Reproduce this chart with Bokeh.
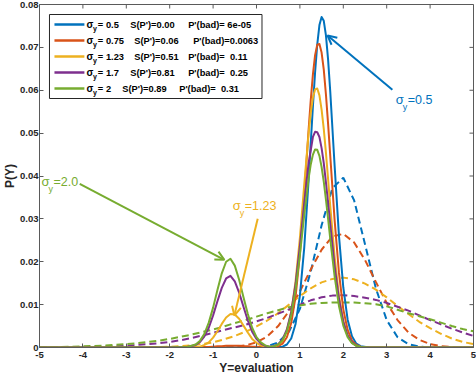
from bokeh.plotting import figure
from bokeh.models import Range1d, FixedTicker, Label, Arrow, OpenHead, BoxAnnotation
from bokeh.embed import file_html
from bokeh.resources import INLINE

# ---------------- data ----------------
sigma_labels = ["0.5", "0.75", "1.23", "1.7", "2"]
s_values = ["0.00", "0.06", "0.51", "0.81", "0.89"]
pbad_values = ["6e-05", "0.0063", "0.11", "0.25", "0.31"]

x_ticks = [-5, -4, -3, -2, -1, 0, 1, 2, 3, 4, 5]
x_tick_labels = ["-5", "-4", "-3", "-2", "-1", "0", "1", "2", "3", "4", "5"]
y_ticks = [0.0, 0.01, 0.02, 0.03, 0.04, 0.05, 0.06, 0.07, 0.08]
y_tick_labels = ["0", "0.01", "0.02", "0.03", "0.04", "0.05", "0.06", "0.07", "0.08"]

x_solid = [-5.0, -2.0, -1.6, -1.4, -1.3, -1.2, -1.1, -1.0, -0.9, -0.8, -0.7, -0.6, -0.5, -0.4,
           -0.3, -0.2, -0.1, 0.0, 0.1, 0.2, 0.3, 0.4, 0.5, 0.6, 0.7, 0.8, 0.9, 1.0, 1.1, 1.2,
           1.25, 1.3, 1.35, 1.4, 1.45, 1.5, 1.55, 1.6, 1.65, 1.7,
           1.8, 1.9, 2.0, 2.1, 2.2, 2.3, 2.4, 2.6, 3.0, 5.0]

solid_blue = [0, 0, 0, 0, 0, 0, 0, 0, 0, 0, 0, 0, 0, 0,
              0, 0, 0, 0, 0, 0, 0, 0, 0.0001, 0.0002, 0.0007, 0.0021, 0.0055, 0.0121, 0.0233, 0.0389,
              0.0477, 0.0563, 0.0642, 0.0707, 0.0752, 0.0771, 0.0762, 0.0728, 0.0671, 0.0596,
              0.0424, 0.0261, 0.0140, 0.0065, 0.0026, 0.0009, 0.0003, 0, 0, 0]
solid_orange = [0, 0, 0, 0, 0, 0.0001, 0.0001, 0.0002, 0.0003, 0.0003, 0.0004, 0.0004, 0.0004, 0.0004,
                0.0003, 0.0003, 0.0002, 0.0002, 0.0001, 0.0001, 0.0001, 0.0002, 0.0003, 0.0009, 0.0024, 0.0057, 0.0118, 0.0218, 0.0355, 0.0507,
                0.0577, 0.0637, 0.0682, 0.0706, 0.0708, 0.0688, 0.0648, 0.0590, 0.0521, 0.0446,
                0.0297, 0.0174, 0.0089, 0.0041, 0.0016, 0.0006, 0.0002, 0, 0, 0]
solid_yellow = [0, 0, 0, 0.0001, 0.0002, 0.0006, 0.0012, 0.0023, 0.0038, 0.0055, 0.0070, 0.0078, 0.0077, 0.0067,
                0.0051, 0.0035, 0.0020, 0.0011, 0.0005, 0.0002, 0.0001, 0.0002, 0.0006, 0.0016, 0.0039, 0.0082, 0.0154, 0.0256, 0.0380, 0.0499,
                0.0547, 0.0583, 0.0602, 0.0604, 0.0588, 0.0555, 0.0510, 0.0454, 0.0392, 0.0329,
                0.0212, 0.0121, 0.0062, 0.0028, 0.0011, 0.0004, 0.0001, 0, 0, 0]
solid_purple = [0, 0, 0.0001, 0.0006, 0.0013, 0.0026, 0.0046, 0.0075, 0.0108, 0.0139, 0.0161, 0.0167, 0.0154, 0.0128,
                0.0095, 0.0063, 0.0037, 0.0020, 0.0009, 0.0004, 0.0002, 0.0003, 0.0008, 0.0019, 0.0042, 0.0083, 0.0148, 0.0236, 0.0337, 0.0430,
                0.0460, 0.0491, 0.0503, 0.0502, 0.0491, 0.0465, 0.0430, 0.0385, 0.0337, 0.0287,
                0.0190, 0.0113, 0.0060, 0.0028, 0.0012, 0.0004, 0.0001, 0, 0, 0]
solid_green = [0, 0, 0.0001, 0.0007, 0.0016, 0.0032, 0.0058, 0.0093, 0.0134, 0.0173, 0.0200, 0.0207, 0.0191, 0.0158,
               0.0117, 0.0078, 0.0046, 0.0024, 0.0012, 0.0005, 0.0002, 0.0003, 0.0007, 0.0017, 0.0038, 0.0076, 0.0136, 0.0216, 0.0309, 0.0394,
               0.0427, 0.0450, 0.0462, 0.0461, 0.0447, 0.0421, 0.0387, 0.0345, 0.0300, 0.0253,
               0.0166, 0.0097, 0.0051, 0.0024, 0.0010, 0.0004, 0.0001, 0, 0, 0]

x_dash = [-5.0, -4.75, -4.5, -4.25, -4.0, -3.75, -3.5, -3.25, -3.0, -2.75, -2.5, -2.25, -2.0, -1.75,
          -1.5, -1.25, -1.0, -0.75, -0.5, -0.25, 0.0, 0.25, 0.5, 0.75, 1.0, 1.25, 1.5, 1.75,
          2.0, 2.25, 2.5, 2.75, 3.0, 3.25, 3.5, 3.75, 4.0, 4.25, 4.5, 4.75, 5.0]

dash_blue = [0, 0, 0, 0, 0, 0, 0, 0, 0, 0, 0, 0, 0, 0,
             0, 0, 0, 0, 0, 0, 0.0001, 0.0003, 0.0012, 0.0037, 0.0090, 0.0177, 0.0285, 0.0372,
             0.0396, 0.0343, 0.0241, 0.0138, 0.0064, 0.0024, 0.0008, 0.0002, 0, 0, 0, 0, 0]
dash_orange = [0, 0, 0, 0, 0, 0, 0, 0, 0, 0, 0, 0, 0, 0,
               0, 0, 0, 0.0001, 0.0002, 0.0005, 0.0012, 0.0026, 0.0050, 0.0085, 0.0131, 0.0182, 0.0228, 0.0259,
               0.0265, 0.0245, 0.0204, 0.0153, 0.0104, 0.0064, 0.0035, 0.0018, 0.0008, 0.0003, 0.0001, 0, 0]
dash_yellow = [0, 0, 0, 0, 0, 0, 0, 0, 0, 0.00003, 0.00005, 0.0001, 0.00016, 0.0003,
               0.0005, 0.0008, 0.0012, 0.0019, 0.0027, 0.0037, 0.0049, 0.0063, 0.0080, 0.0100, 0.0120, 0.0138, 0.0152, 0.0160,
               0.0163, 0.0159, 0.0149, 0.0135, 0.0117, 0.0097, 0.0078, 0.0060, 0.0045, 0.0032, 0.0021, 0.0013, 0.0008]
dash_purple = [0.00002, 0.00003, 0.00005, 0.00007, 0.0001, 0.00015, 0.0002, 0.0003, 0.0004, 0.0006, 0.0008, 0.0010, 0.0013, 0.0017,
               0.0022, 0.0028, 0.0034, 0.0041, 0.0047, 0.0053, 0.0061, 0.0069, 0.0079, 0.0089, 0.0100, 0.0110, 0.0117, 0.0121,
               0.0122, 0.0120, 0.0116, 0.0111, 0.0104, 0.0095, 0.0086, 0.0075, 0.0064, 0.0054, 0.0044, 0.0035, 0.0027]
dash_green = [0.00007, 0.0001, 0.00014, 0.0002, 0.00026, 0.00035, 0.00045, 0.0006, 0.0008, 0.0010, 0.0013, 0.0016, 0.0020, 0.0025,
              0.0030, 0.0036, 0.0042, 0.0049, 0.0057, 0.0064, 0.0072, 0.0080, 0.0087, 0.0094, 0.0098, 0.0102, 0.0104, 0.0105,
              0.0105, 0.0105, 0.0103, 0.0101, 0.0096, 0.0088, 0.0080, 0.0073, 0.0066, 0.0058, 0.0050, 0.0043, 0.0038]

# ---------------- style ----------------
colors = ["#0072BD", "#D95319", "#EDB120", "#7E2F8E", "#77AC30"]
FONT = "Liberation Sans"
AX = "#5a5a5a"
TXT = "#262626"

FL, FR, FT, FB = 38, 473, 4, 347   # frame edges in pixels
TICK_PX = 4


def X(px):
    return -5 + (px - FL) * 10.0 / (FR - FL)


def Y(py):
    return 0.08 * (FB - py) / (FB - FT)


p = figure(width=476, height=377, output_backend="svg", toolbar_location=None,
           x_range=Range1d(-5, 5), y_range=Range1d(0, 0.08),
           min_border_left=FL, min_border_right=476 - FR, min_border_top=FT,
           min_border_bottom=377 - FB)
p.xgrid.visible = False
p.ygrid.visible = False
p.outline_line_color = AX
p.outline_line_width = 1
p.background_fill_color = "white"
p.border_fill_color = "white"

for ax, ticks, labels in ((p.xaxis[0], x_ticks, x_tick_labels), (p.yaxis[0], y_ticks, y_tick_labels)):
    ax.ticker = FixedTicker(ticks=ticks)
    ax.major_label_overrides = {t: l for t, l in zip(ticks, labels)}
    ax.axis_line_color = AX
    ax.major_tick_line_color = AX
    ax.major_tick_in = TICK_PX
    ax.major_tick_out = 0
    ax.minor_tick_line_color = None
    ax.major_label_text_font = FONT
    ax.major_label_text_font_style = "bold"
    ax.major_label_text_font_size = "9.5px"
    ax.major_label_text_color = TXT
    ax.major_label_text_line_height = 1.0
    ax.axis_label_text_font = FONT
    ax.axis_label_text_font_style = "bold"
    ax.axis_label_text_font_size = "12px"
    ax.axis_label_text_color = TXT
    ax.axis_label_text_line_height = 1.0

p.xaxis[0].axis_label = "Y=evaluation"
p.yaxis[0].axis_label = "P(Y)"
p.xaxis[0].major_label_standoff = 4
p.xaxis[0].axis_label_standoff = 0
p.yaxis[0].major_label_standoff = 1
p.yaxis[0].axis_label_standoff = 0

# inward ticks on the top and right edges of the box
tick_dy = TICK_PX * 0.08 / (FB - FT)
tick_dx = TICK_PX * 10.0 / (FR - FL)
p.segment(x0=x_ticks, y0=[0.08] * len(x_ticks), x1=x_ticks, y1=[0.08 - tick_dy] * len(x_ticks),
          line_color=AX, line_width=1)
p.segment(x0=[5] * len(y_ticks), y0=y_ticks, x1=[5 - tick_dx] * len(y_ticks), y1=y_ticks,
          line_color=AX, line_width=1)

solids = [solid_blue, solid_orange, solid_yellow, solid_purple, solid_green]
dashes = [dash_blue, dash_orange, dash_yellow, dash_purple, dash_green]
for ys, c in zip(dashes, colors):
    p.line(x_dash, ys, line_color=c, line_width=2, line_dash="7 4")
for ys, c in zip(solids, colors):
    p.line(x_solid, ys, line_color=c, line_width=2, line_join="round")

# ---------------- legend (manual) ----------------
p.add_layout(BoxAnnotation(left=X(48), right=X(261), top=Y(14), bottom=Y(98),
                           fill_color="white", fill_alpha=1, line_color="#262626",
                           line_width=1, line_alpha=1))
row_py = [24, 40, 56, 72, 88]
s_px = [129, 133, 133, 129, 121]
p_px = [187, 192, 187, 187, 178]
pbad_sep = [" ", "", "\u00a0\u00a0", "\u00a0\u00a0", "\u00a0\u00a0"]
LFS = "9.3px"
for i in range(5):
    yy = row_py[i]
    p.add_layout(Arrow(x_start=X(53), y_start=Y(yy), x_end=X(83), y_end=Y(yy), end=None,
                       line_color=colors[i], line_width=2.5))
    common = dict(text_font=FONT, text_font_style="bold", text_color="black",
                  text_baseline="middle", text_align="left")
    p.add_layout(Label(x=X(85), y=Y(yy), text="σ", text_font_size="10px", **common))
    p.add_layout(Label(x=X(91.5), y=Y(yy + 4), text="y", text_font_size="7px", **common))
    p.add_layout(Label(x=X(96.5), y=Y(yy), text="= " + sigma_labels[i], text_font_size=LFS, **common))
    p.add_layout(Label(x=X(s_px[i]), y=Y(yy), text="S(P')=" + s_values[i], text_font_size=LFS, **common))
    p.add_layout(Label(x=X(p_px[i]), y=Y(yy), text="P'(bad)=" + pbad_sep[i] + pbad_values[i],
                       text_font_size=LFS, **common))

# ---------------- arrows + annotations ----------------
ann = [
    # color index, text pos (px), arrow tail (px), arrow head (px), value
    (0, (395, 99), (391.7, 89.3), (326.7, 35.0), "0.5"),
    (4, (40, 181), (78.3, 183.3), (223.3, 259.3), "2.0"),
    (2, (231.7, 205), (256.7, 218.3), (233.3, 315.0), "1.23"),
]
for ci, (tx, ty), (ax0, ay0), (ax1, ay1), val in ann:
    c = colors[ci]
    p.add_layout(Arrow(x_start=X(ax0), y_start=Y(ay0), x_end=X(ax1), y_end=Y(ay1),
                       line_color=c, line_width=2,
                       end=OpenHead(size=9, line_color=c, line_width=2)))
    kw = dict(text_font=FONT, text_color=c, text_baseline="middle", text_align="left")
    p.add_layout(Label(x=X(tx), y=Y(ty), text="σ", text_font_size="13px", **kw))
    p.add_layout(Label(x=X(tx + 7), y=Y(ty + 7), text="y", text_font_size="9px", **kw))
    p.add_layout(Label(x=X(tx + 12), y=Y(ty), text="=" + val, text_font_size="12.5px", **kw))

open("out.html", "w").write(file_html(p, INLINE))
